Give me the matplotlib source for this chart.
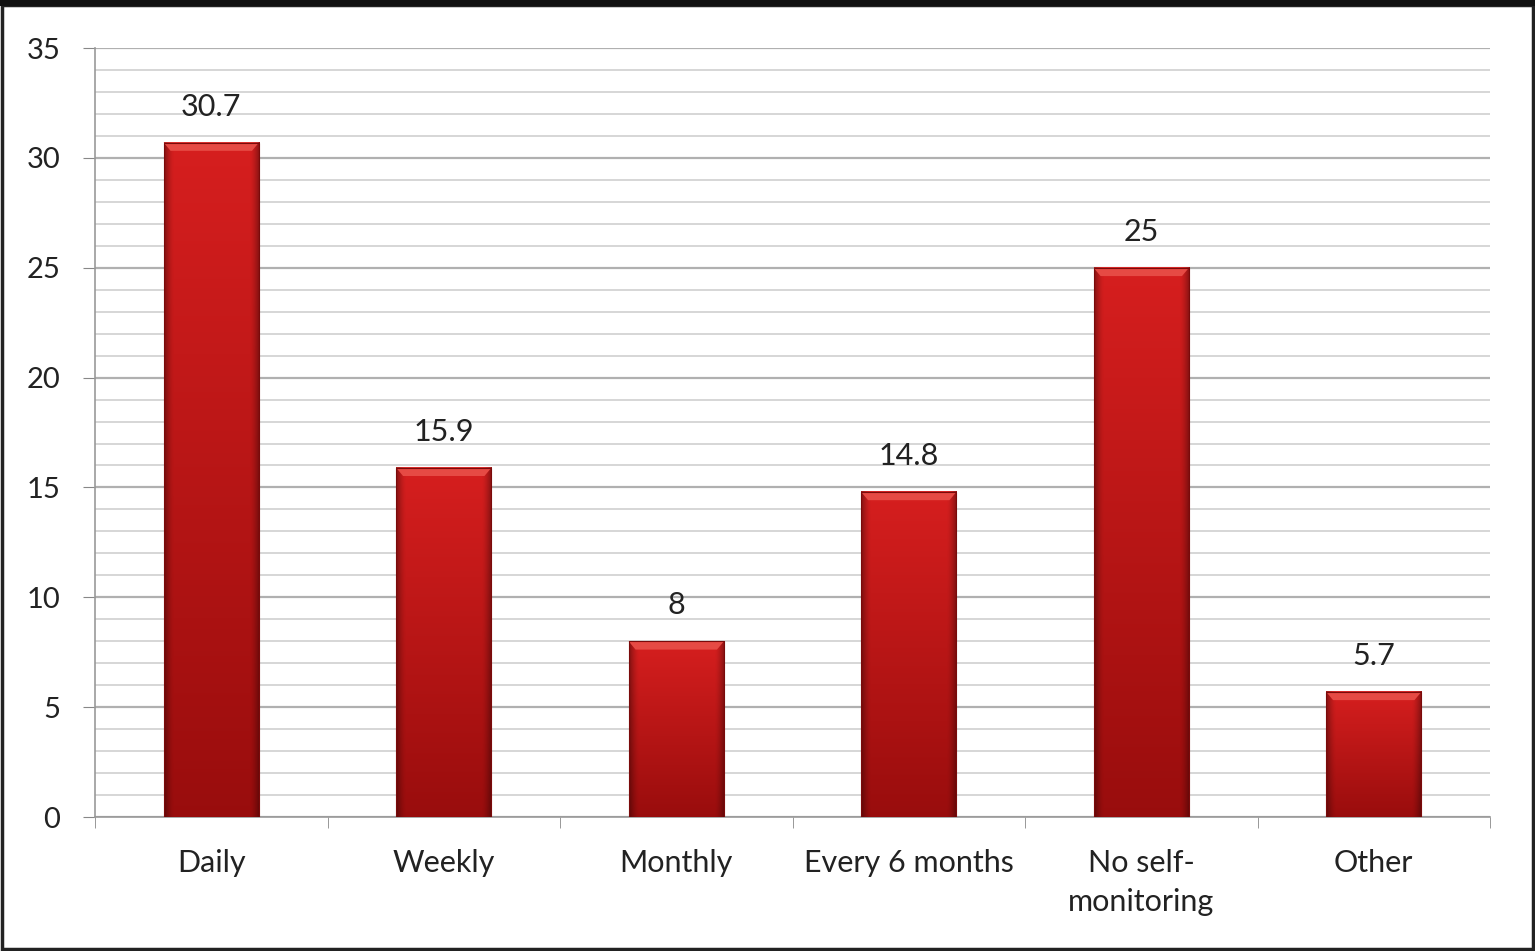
import numpy as np
import matplotlib.pyplot as plt
from matplotlib.patches import Rectangle, Polygon
from matplotlib.ticker import MultipleLocator

categories = ['Daily', 'Weekly', 'Monthly', 'Every 6 months', 'No self-\nmonitoring', 'Other']
values = [30.7, 15.9, 8, 14.8, 25, 5.7]
value_labels = ['30.7', '15.9', '8', '14.8', '25', '5.7']
yticks = [0, 5, 10, 15, 20, 25, 30, 35]

plt.rcParams['font.family'] = ['Lato', 'DejaVu Sans']

fig = plt.figure(figsize=(15.35, 9.51), dpi=100)
ax = fig.add_axes([0.0619, 0.1409, 0.9088, 0.8086])

# shaded red bar texture: darker toward the base and the side edges
def bar_texture(h_px=300, w_px=60):
    t = np.linspace(1, 0, h_px)[:, None]          # 1 at top, 0 at bottom
    top = np.array([0.84, 0.12, 0.12])
    bot = np.array([0.60, 0.05, 0.05])
    col = bot + (top - bot) * t[..., None]
    xs = np.linspace(-1, 1, w_px)[None, :]
    edge = 1 - 0.35 * np.clip((np.abs(xs) - 0.8) / 0.2, 0, 1) ** 1.5
    img = col * edge[..., None]
    return np.clip(img, 0, 1)

width = 0.41
x = np.arange(len(categories))
tex = bar_texture()
for xi, v in zip(x, values):
    ax.imshow(tex, extent=(xi - width / 2, xi + width / 2, 0, v),
              aspect='auto', zorder=3, interpolation='bilinear')
    # lighter bevel along the top edge
    bev = 0.38
    l, r = xi - width / 2, xi + width / 2
    ax.add_patch(Polygon([(l, v), (r, v), (r - 0.03, v - bev), (l + 0.03, v - bev)],
                         closed=True, facecolor='#e64a44', edgecolor='none', zorder=4))
    ax.add_patch(Rectangle((l, 0), width, v, facecolor='none',
                           edgecolor='#7a0a0a', linewidth=0.8, zorder=5))

for xi, v, lab in zip(x, values, value_labels):
    ax.text(xi, v + 1.0, lab, ha='center', va='bottom', fontsize=22, color='#222222')

ax.set_xlim(-0.5, len(categories) - 0.5)
ax.set_ylim(0, 35)
ax.set_yticks(yticks)
ax.yaxis.set_minor_locator(MultipleLocator(1))
ax.set_xticks(x)
ax.set_xticklabels(categories, fontsize=22, color='#222222', linespacing=1.5)
ax.set_xticks(np.arange(-0.5, len(categories), 1), minor=True)
ax.tick_params(axis='y', labelsize=21, labelcolor='#222222', length=9,
               color='#888888', pad=16)
ax.tick_params(axis='y', which='minor', length=0)
ax.tick_params(axis='x', which='major', length=0, pad=23)
ax.tick_params(axis='x', which='minor', length=8, color='#888888')

ax.grid(axis='y', which='major', color='#b0b0b0', linewidth=1.6, zorder=0)
ax.grid(axis='y', which='minor', color='#cfcfcf', linewidth=1.2, zorder=0)
ax.set_axisbelow(True)

for side in ['top', 'right']:
    ax.spines[side].set_visible(False)
ax.spines['left'].set_color('#999999')
ax.spines['bottom'].set_color('#999999')
ax.spines['left'].set_linewidth(1.2)
ax.spines['bottom'].set_linewidth(1.2)

# outer frame around the whole figure
fig.add_artist(Rectangle((0.0015, 0.002), 0.997, 0.993, transform=fig.transFigure,
                         fill=False, edgecolor='#222222', linewidth=2.5))
fig.add_artist(Rectangle((0.0, 0.994), 1.0, 0.006, transform=fig.transFigure,
                         facecolor='#111111', edgecolor='none'))

fig.savefig('out.png', dpi=100)
